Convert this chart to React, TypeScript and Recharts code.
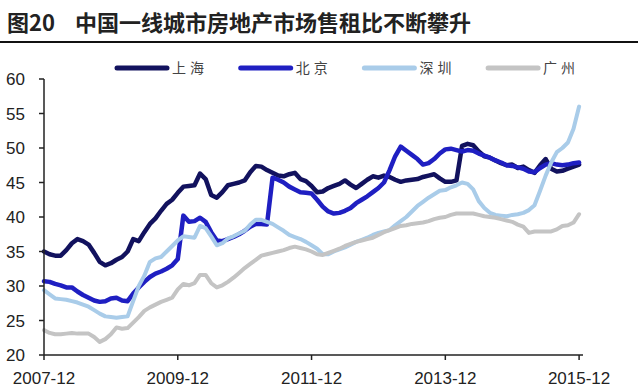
import React from 'react';
import { LineChart, Line, XAxis, YAxis, Legend } from 'recharts';

// month index 0 = 2007-12, 96 = 2015-12
const tickIdx = [0, 24, 48, 72, 96];
const tickLabels = ['2007-12', '2009-12', '2011-12', '2013-12', '2015-12'];
const yTicks = [20, 25, 30, 35, 40, 45, 50, 55, 60];

const cities = ['上海', '北京', '深圳', '广州'];
const colors = ['#12125e', '#1f1fc2', '#a9cce9', '#c4c4c4'];

const shanghai = [
  35.0, 34.6, 34.4, 34.4, 35.2, 36.2, 36.8, 36.5, 36.0, 34.8, 33.5, 33.0,
  33.3, 33.8, 34.2, 35.0, 36.8, 36.5, 37.8, 39.0, 39.8, 40.9, 41.9, 42.5,
  43.5, 44.4, 44.5, 44.6, 46.3, 45.5, 43.2, 42.8, 43.6, 44.6, 44.8, 45.0,
  45.3, 46.5, 47.4, 47.3, 46.8, 46.4, 46.0, 45.9, 46.2, 46.4, 45.5, 45.2,
  44.5, 43.6, 43.7, 44.2, 44.5, 44.8, 45.3, 44.7, 44.2, 44.8, 45.4, 45.9,
  45.7, 46.0, 45.8, 45.4, 45.1, 45.3, 45.4, 45.5, 45.8, 46.0, 46.2, 45.6,
  45.1, 45.1, 45.3, 50.3, 50.6, 50.4, 49.5, 48.8, 48.6, 48.2, 47.8, 47.5,
  47.6, 47.1, 47.3, 46.8, 46.4, 47.5, 48.4, 47.0, 46.6, 46.7, 47.0, 47.3,
  47.6,
];

const beijing = [
  30.7, 30.6, 30.3, 30.1, 29.8, 29.8, 29.2, 28.7, 28.3, 27.9, 27.7, 27.8,
  28.2, 28.3, 27.9, 27.8, 28.9, 29.8, 30.6, 31.3, 31.8, 32.1, 32.5, 33.0,
  33.9, 40.2, 39.3, 39.4, 39.9, 39.3, 37.8, 36.6, 36.5, 36.8, 37.1, 37.5,
  38.0, 38.6, 39.0, 39.0, 38.9, 45.7, 45.4, 45.0, 44.4, 44.0, 43.6, 43.5,
  43.4, 42.5, 41.5, 40.8, 40.5, 40.6, 40.9, 41.3, 42.0, 42.5, 43.0, 43.6,
  44.2, 45.0, 46.8, 48.8, 50.2, 49.6, 49.0, 48.4, 47.6, 47.8, 48.4, 49.2,
  49.8, 49.9, 49.7, 49.5, 49.7, 49.6, 49.2, 48.9, 48.6, 48.2, 47.9, 47.5,
  47.4, 47.2, 47.0, 46.6, 46.5, 47.1, 47.6, 47.8, 47.6, 47.5, 47.6, 47.8,
  47.9,
];

const shenzhen = [
  29.4, 28.8, 28.2, 28.1, 28.0, 27.8, 27.6, 27.3, 27.0, 26.5, 26.0, 25.6,
  25.5, 25.4, 25.5, 25.6, 27.8, 30.0, 31.5, 33.5, 34.0, 34.2, 35.0, 35.8,
  36.6, 37.2, 37.1, 37.0, 38.7, 38.4, 37.2, 35.9, 36.2, 36.9, 37.2, 37.6,
  38.0, 38.9, 39.6, 39.6, 39.3, 39.0, 38.5, 38.0, 37.4, 37.1, 36.8, 36.4,
  35.9, 35.4, 34.6, 34.6, 35.0, 35.3, 35.6, 36.0, 36.4, 36.7, 37.0, 37.4,
  37.7, 37.9, 38.1, 38.8, 39.4, 40.0, 40.8, 41.6, 42.2, 42.8, 43.3, 43.8,
  43.9, 44.3, 44.6, 45.0, 44.8, 44.0, 42.3, 41.3, 40.6, 40.3, 40.2, 40.1,
  40.3, 40.4, 40.6, 41.0, 41.7, 43.8, 46.0, 47.9, 49.4, 50.0, 50.8, 52.8,
  56.0,
];

const guangzhou = [
  23.6, 23.2, 23.0, 23.0, 23.1, 23.2, 23.1, 23.1, 23.1, 22.6, 21.9, 22.3,
  23.0, 24.0, 23.8, 23.9, 24.7, 25.5, 26.4, 26.9, 27.3, 27.7, 28.0, 28.3,
  29.5, 30.3, 30.1, 30.4, 31.6, 31.6, 30.4, 29.8, 30.1, 30.6, 31.2, 31.9,
  32.6, 33.2, 33.8, 34.4, 34.6, 34.8, 35.0, 35.2, 35.5, 35.7, 35.5, 35.3,
  35.0, 34.6, 34.5, 34.8, 35.1, 35.4, 35.8, 36.1, 36.4, 36.6, 36.8, 37.0,
  37.4, 37.8, 38.1, 38.4, 38.7, 38.8, 39.0, 39.1, 39.2, 39.4, 39.7, 39.9,
  40.0, 40.3, 40.5, 40.5, 40.5, 40.5, 40.3, 40.1, 40.0, 39.9, 39.7, 39.5,
  39.3, 38.9, 38.6, 37.7, 37.9, 37.9, 37.9, 37.9, 38.2, 38.7, 38.8, 39.2,
  40.4,
];

const data = shanghai.map((_, i) => ({
  idx: i,
  上海: shanghai[i],
  北京: beijing[i],
  深圳: shenzhen[i],
  广州: guangzhou[i],
}));

const axisFont = '"Liberation Sans", Arial, sans-serif';
const cjkFont = '"Noto Sans CJK SC", sans-serif';

const renderLegend = () => (
  <svg width={638} height={22} style={{ display: 'block' }}>
    {cities.map((c, k) => {
      const x0 = 117 + k * 123.7;
      return (
        <g key={c}>
          <line x1={x0} y1={11} x2={x0 + 50} y2={11} stroke={colors[k]} strokeWidth={5} strokeLinecap="round" />
          <text x={x0 + 55} y={16} fontSize={14} fill="#444" fontFamily={cjkFont} letterSpacing={4}>{c}</text>
        </g>
      );
    })}
  </svg>
);

const App = () => {
  return (
    <div style={{ position: 'absolute', left: 0, top: 0, width: 638, height: 389, background: '#fff', overflow: 'hidden' }}>
      <div style={{ position: 'absolute', left: 7, top: 6, fontFamily: cjkFont, fontWeight: 700, fontSize: 22, color: '#222', whiteSpace: 'pre', lineHeight: '30px' }}>
        图20<span style={{ marginLeft: 20 }}>中国一线城市房地产市场售租比不断攀升</span>
      </div>
      <div style={{ position: 'absolute', left: 0, top: 41, width: 638, height: 2, background: '#111' }} />
      <div style={{ position: 'absolute', left: 0, top: 0 }}>
        <LineChart width={638} height={389} data={data} margin={{ top: 57, right: 55, bottom: 0, left: 0 }}>
          <XAxis
            dataKey="idx"
            type="number"
            domain={[0, 96.7]}
            ticks={tickIdx}
            tickFormatter={(v: number) => tickLabels[tickIdx.indexOf(v)] ?? ''}
            height={34}
            tickSize={5}
            tickMargin={12}
            interval={0}
            stroke="#222"
            strokeWidth={1.5}
            tick={{ fill: '#222', fontSize: 17, fontFamily: axisFont }}
          />
          <YAxis
            type="number"
            domain={[20, 60]}
            ticks={yTicks}
            width={44}
            tickSize={5}
            tickMargin={14}
            interval={0}
            stroke="#222"
            strokeWidth={1.5}
            tick={{ fill: '#222', fontSize: 17, fontFamily: axisFont }}
          />
          <Legend verticalAlign="top" content={renderLegend} wrapperStyle={{ position: 'absolute', top: 57, left: 0, width: 638, height: 22 }} />
          {cities.map((c, k) => (
            <Line
              key={c}
              dataKey={c}
              type="linear"
              stroke={colors[k]}
              strokeWidth={k < 2 ? 4.5 : 4}
              strokeLinejoin="round"
              strokeLinecap="round"
              dot={false}
              isAnimationActive={false}
            />
          ))}
        </LineChart>
      </div>
    </div>
  );
};

export default App;
